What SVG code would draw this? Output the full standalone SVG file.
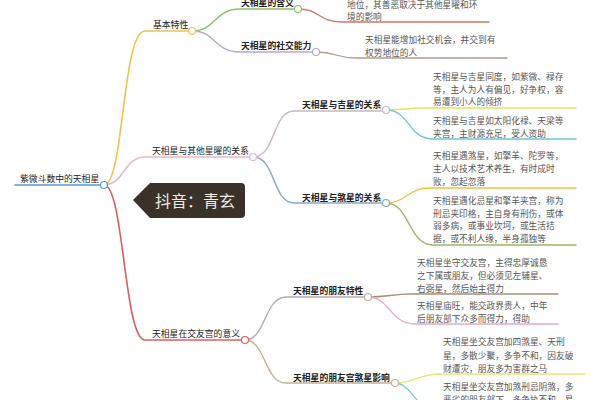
<svg xmlns="http://www.w3.org/2000/svg" width="600" height="400" viewBox="0 0 600 400">
<style>
.c{fill:none;stroke-linecap:round}
.l1{stroke-width:1.6}
.l2{stroke-width:1.4}
.lf{stroke-width:1.3}
.dot{fill:#fff;stroke-width:1.2}
.n{font-family:"Noto Sans CJK SC","Noto Sans",sans-serif;font-size:8.8px;fill:#222}
.b{font-weight:bold}
.t{font-family:"Noto Sans CJK SC","Noto Sans",sans-serif;font-size:8.7px;fill:#555}
</style>
<rect width="600" height="400" fill="#fff"/>
<g id="connectors">
  <path class="c l1" stroke="#5a96d8" d="M15,185 H104"/>
  <path class="c l1" stroke="#f2c14e" d="M104,185 C124,185 122,31 145,31 H192"/>
  <path class="c l1" stroke="#e8b8c8" d="M104,185 C124,185 124,157 145,157 H253"/>
  <path class="c l1" stroke="#d9605a" d="M104,185 C124,185 124,340 145,340 H245"/>
  <path class="c l2" stroke="#8cc06a" d="M192,31 C216,31 214,9 240,9 H298"/>
  <path class="c l2" stroke="#b8a8d8" d="M192,31 C216,31 214,52 240,52 H316"/>
  <path class="c lf" stroke="#c8786a" d="M298,9 C320,9 318,22 342,22 H489"/>
  <path class="c lf" stroke="#b09a90" d="M316,52 C336,52 336,58 356,58 H507"/>
  <path class="c l2" stroke="#c8b8c0" d="M253,157 C276,157 272,111 294,111 H386"/>
  <path class="c l2" stroke="#88a8c8" d="M253,157 C276,157 272,203 294,203 H386"/>
  <path class="c lf" stroke="#e6de6a" d="M386,110 C405,110 405,108 425,108 H576"/>
  <path class="c lf" stroke="#70c8d0" d="M386,110 C410,110 408,139 433,139 H576"/>
  <path class="c lf" stroke="#f0c048" d="M386,203 C406,203 408,188 430,188 H576"/>
  <path class="c lf" stroke="#98b868" d="M386,203 C410,203 408,245 433,245 H576"/>
  <path class="c l2" stroke="#c0a8b0" d="M245,340 C266,340 264,297 286,297 H368"/>
  <path class="c l2" stroke="#c8b098" d="M245,340 C266,340 264,383 286,383 H395"/>
  <path class="c lf" stroke="#a89078" d="M368,297 C388,297 392,294 412,294 H558"/>
  <path class="c lf" stroke="#e8a8c8" d="M368,297 C390,297 390,324 415,324 H558"/>
  <path class="c lf" stroke="#e0e878" d="M395,383 C415,383 418,374 440,374 H585"/>
  <path class="c lf" stroke="#78c8d8" d="M395,383 C412,383 416,412 440,412"/>
</g>
<g id="root">
  <text class="n" x="20" y="182">紫微斗数中的天相星</text>
  <circle class="dot" cx="104" cy="185" r="3.5" stroke="#5a96d8"/>
</g>
<g id="basic">
  <text class="n" x="153" y="28">基本特性</text>
  <circle class="dot" cx="192" cy="31" r="3.5" stroke="#f2c14e"/>
</g>
<g id="meaning">
  <text class="n b" x="241" y="6">天相星的含义</text>
  <circle class="dot" cx="298" cy="9" r="3.5" stroke="#8cc06a"/>
</g>
<g id="meaning-leaf">
  <text class="t" x="347" y="8">地位，其善恶取决于其他星曜和环</text>
  <text class="t" x="347" y="20">境的影响</text>
</g>
<g id="social">
  <text class="n b" x="241" y="49">天相星的社交能力</text>
  <circle class="dot" cx="316" cy="52" r="3.5" stroke="#b8a8d8"/>
</g>
<g id="social-leaf">
  <text class="t" x="365" y="43">天相星能增加社交机会，并交到有</text>
  <text class="t" x="365" y="55.5">权势地位的人</text>
</g>
<g id="others">
  <text class="n" x="152" y="154">天相星与其他星曜的关系</text>
  <circle class="dot" cx="253" cy="157" r="3.5" stroke="#e8b8c8"/>
</g>
<g id="lucky">
  <text class="n b" x="302" y="108">天相星与吉星的关系</text>
  <circle class="dot" cx="386" cy="110" r="3.5" stroke="#c8b8c0"/>
</g>
<g id="lucky-leaf1">
  <text class="t" x="433" y="80">天相星与吉星同度，如紫微、禄存</text>
  <text class="t" x="433" y="92.5">等，主人为人有偏见，好争权，容</text>
  <text class="t" x="433" y="105">易遭到小人的倾挤</text>
</g>
<g id="lucky-leaf2">
  <text class="t" x="433" y="124">天相星与吉星如太阳化禄、天梁等</text>
  <text class="t" x="433" y="136.5">夹宫，主财源充足，受人资助</text>
</g>
<g id="evil">
  <text class="n b" x="302" y="201">天相星与煞星的关系</text>
  <circle class="dot" cx="386" cy="203" r="3.5" stroke="#88a8c8"/>
</g>
<g id="evil-leaf1">
  <text class="t" x="433" y="159">天相星遇煞星，如擎羊、陀罗等，</text>
  <text class="t" x="433" y="172">主人以技术艺术养生，有时成时</text>
  <text class="t" x="433" y="185">败，忽起忽落</text>
</g>
<g id="evil-leaf2">
  <text class="t" x="433" y="204">天相星遇化忌星和擎羊夹宫，称为</text>
  <text class="t" x="433" y="216.5">刑忌夹印格，主自身有刑伤，或体</text>
  <text class="t" x="433" y="229">弱多病，或事业坎坷，或生活拮</text>
  <text class="t" x="433" y="242">据，或不利人缘，半身孤独等</text>
</g>
<g id="friends">
  <text class="n" x="152" y="337">天相星在交友宫的意义</text>
  <circle class="dot" cx="245" cy="340" r="3.5" stroke="#d9605a"/>
</g>
<g id="friend-traits">
  <text class="n b" x="293" y="294">天相星的朋友特性</text>
  <circle class="dot" cx="368" cy="297" r="3.5" stroke="#c0a8b0"/>
</g>
<g id="traits-leaf1">
  <text class="t" x="417" y="265.5">天相星坐守交友宫，主得忠厚诚恳</text>
  <text class="t" x="417" y="278.5">之下属或朋友，但必须见左辅星、</text>
  <text class="t" x="417" y="291.5">右弼星，然后始主得力</text>
</g>
<g id="traits-leaf2">
  <text class="t" x="417" y="309">天相星庙旺，能交政界贵人，中年</text>
  <text class="t" x="417" y="322">后朋友部下众多而得力，得助</text>
</g>
<g id="friend-evil">
  <text class="n b" x="293" y="381">天相星的朋友宫煞星影响</text>
  <circle class="dot" cx="395" cy="383" r="3.5" stroke="#c8b098"/>
</g>
<g id="fevil-leaf1">
  <text class="t" x="443" y="345">天相星坐交友宫加四煞星、天刑</text>
  <text class="t" x="443" y="358.5">星，多散少聚，多争不和，因友破</text>
  <text class="t" x="443" y="371.5">财遭灾，朋友多为害群之马</text>
</g>
<g id="fevil-leaf2">
  <text class="t" x="443" y="390">天相星坐交友宫加煞刑忌阴煞，多</text>
  <text class="t" x="443" y="403">恶劣的朋友部下，多争执不和，易</text>
</g>
<g id="watermark">
  <path d="M133,200 L150,183 H241 Q245,183 245,187 V214 Q245,218 241,218 H150 Z" fill="#3a3228"/>
  <text x="155" y="207" font-family="'Noto Sans CJK SC',sans-serif" font-size="16" fill="#f2ede4">抖音：青玄</text>
</g>
</svg>
